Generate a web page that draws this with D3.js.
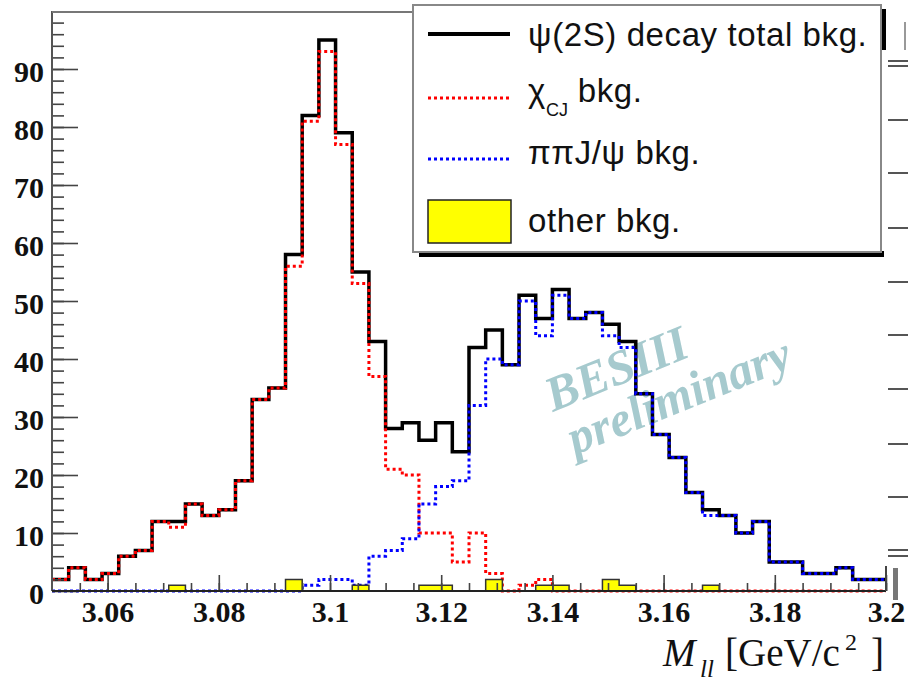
<!DOCTYPE html>
<html>
<head>
<meta charset="utf-8">
<script src="https://cdn.jsdelivr.net/npm/d3@7"></script>
<style>
  html, body { margin: 0; padding: 0; background: #fff; }
  svg { display: block; }
</style>
</head>
<body>
<svg id="chart"></svg>
<script>
/* canvas */
const width = 908, height = 681;
const frame = { left: 52, right: 886, top: 11, bottom: 591 };
const serif = "'Liberation Serif', 'Times New Roman', Times, serif";
const sans = "'Liberation Sans', Arial, Helvetica, sans-serif";

/* histogram binning: 50 bins of 0.003 GeV from 3.05 to 3.2 */
const xMin = 3.05, xMax = 3.2, nBins = 50;

/* entries per bin */
const totalBkg = [2, 4, 2, 3, 6, 7, 12, 12, 15, 13,
                  14, 19, 33, 35, 58, 82, 95, 79, 55, 43,
                  28, 29, 26, 29, 24, 42, 45, 39, 51, 47,
                  52, 47, 48, 46, 43, 34, 27, 23, 17, 14,
                  13, 10, 12, 5, 5, 3, 3, 4, 2, 2];
const chiBkg = [2, 4, 2, 3, 6, 7, 12, 11, 15, 13,
                14, 19, 33, 35, 56, 81, 93, 77, 53, 37,
                21, 20, 10, 10, 5, 10, 3, 0, 1, 2,
                0, 0, 0, 0, 0, 0, 0, 0, 0, 0,
                0, 0, 0, 0, 0, 0, 0, 0, 0, 0];
const pipiBkg = [0, 0, 0, 0, 0, 0, 0, 0, 0, 0,
                 0, 0, 0, 0, 0, 1, 2, 2, 1, 6,
                 7, 9, 15, 18, 19, 32, 40, 39, 50, 44,
                 51, 47, 48, 44, 42, 34, 27, 23, 17, 13,
                 13, 10, 12, 5, 5, 3, 3, 4, 2, 2];
const otherBkg = [0, 0, 0, 0, 0, 0, 0, 1, 0, 0,
                  0, 0, 0, 0, 2, 0, 0, 0, 1, 0,
                  0, 0, 1, 1, 0, 0, 2, 0, 0, 1,
                  1, 0, 0, 2, 1, 0, 0, 0, 0, 1,
                  0, 0, 0, 0, 0, 0, 0, 0, 0, 0];

/* axis ticks */
const xTickLabels = [3.06, 3.08, 3.1, 3.12, 3.14, 3.16, 3.18, 3.2];
const yTickLabels = [0, 10, 20, 30, 40, 50, 60, 70, 80, 90];

/* legend */
const legendItems = [
  { key: 'total', text: 'ψ(2S) decay total bkg.' },
  { key: 'chi',   text: 'χ', sub: 'CJ', after: ' bkg.' },
  { key: 'pipi',  text: 'ππJ/ψ bkg.' },
  { key: 'other', text: 'other bkg.' }
];

const svg = d3.select('#chart').attr('width', width).attr('height', height);

const xScale = d3.scaleLinear().domain([xMin, xMax]).range([frame.left, frame.right]);
const yScale = d3.scaleLinear().domain([0, 100]).range([frame.bottom, frame.top]);
const binW = (xMax - xMin) / nBins;

/* turn bin contents into step points (one extra point closes the last bin) */
function stepPoints(vals) {
  const pts = vals.map((v, i) => [xMin + i * binW, v]);
  pts.push([xMax, vals[vals.length - 1]]);
  return pts;
}
const stepLine = d3.line().x(d => xScale(d[0])).y(d => yScale(d[1])).curve(d3.curveStepAfter);

/* right-hand leftovers of the neighbouring panel */
const sideTicks = [61, 66, 120, 173, 228, 282, 335, 389, 444, 497, 550, 556];
svg.append('g').selectAll('line').data(sideTicks).enter().append('line')
  .attr('x1', 888).attr('x2', 908).attr('y1', d => d).attr('y2', d => d)
  .attr('stroke', '#555').attr('stroke-width', 2);
svg.append('line').attr('x1', 905).attr('x2', 905).attr('y1', 22).attr('y2', 50)
  .attr('stroke', '#999').attr('stroke-width', 2);
svg.append('rect').attr('x', 893).attr('y', 568).attr('width', 5).attr('height', 32).attr('fill', '#777');

/* watermark */
const wm = svg.append('g').attr('fill', '#a6cace').attr('font-family', serif)
  .attr('font-weight', 'bold').attr('font-style', 'italic').attr('font-size', 49);
wm.append('text').attr('transform', 'translate(553,412) rotate(-22)').text('BESIII');
wm.append('text').attr('transform', 'translate(575,455) rotate(-22)').text('preliminary');

/* histograms */
svg.append('path').attr('d', stepLine(stepPoints(totalBkg)))
  .attr('fill', 'none').attr('stroke', '#000').attr('stroke-width', 3.5);
svg.append('path').attr('d', stepLine(stepPoints(chiBkg)))
  .attr('fill', 'none').attr('stroke', '#ff0000').attr('stroke-width', 3).attr('stroke-dasharray', '3,3');
svg.append('path').attr('d', stepLine(stepPoints(pipiBkg)))
  .attr('fill', 'none').attr('stroke', '#0000ff').attr('stroke-width', 3).attr('stroke-dasharray', '3,3');

/* other bkg: filled steps, one patch for each run of non-empty bins */
const runs = [];
otherBkg.forEach((v, i) => {
  if (v > 0) {
    if (runs.length && runs[runs.length - 1].end === i) runs[runs.length - 1].end = i + 1;
    else runs.push({ start: i, end: i + 1 });
  }
});
const stepArea = d3.area().x(d => xScale(d[0])).y0(yScale(0)).y1(d => yScale(d[1])).curve(d3.curveStepAfter);
svg.append('g').selectAll('path').data(runs).enter().append('path')
  .attr('d', r => {
    const pts = d3.range(r.start, r.end).map(i => [xMin + i * binW, otherBkg[i]]);
    pts.push([xMin + r.end * binW, otherBkg[r.end - 1]]);
    return stepArea(pts);
  })
  .attr('fill', '#ffff00').attr('stroke', '#333').attr('stroke-width', 1.5);

/* axes (ticks point inwards like ROOT) */
const xAxis = svg.append('g').attr('transform', `translate(0,${frame.bottom})`)
  .call(d3.axisBottom(xScale).tickValues(d3.range(3.055, 3.2001, 0.005)).tickSize(-8).tickFormat(''));
xAxis.select('.domain').remove();
xAxis.selectAll('line').attr('stroke', '#444').attr('stroke-width', 1.6);
const xMajor = svg.append('g').attr('transform', `translate(0,${frame.bottom})`)
  .call(d3.axisBottom(xScale).tickValues(xTickLabels).tickSize(-16).tickPadding(31).tickFormat(d3.format('')));
xMajor.select('.domain').remove();
xMajor.selectAll('line').attr('stroke', '#444').attr('stroke-width', 1.6);
xMajor.selectAll('text').attr('font-family', serif).attr('font-weight', 'bold')
  .attr('font-size', 30).attr('fill', '#111').attr('dy', 0);

const yMinor = svg.append('g').attr('transform', `translate(${frame.left},0)`)
  .call(d3.axisLeft(yScale).tickValues(d3.range(2, 100, 2)).tickSize(-12).tickFormat(''));
yMinor.select('.domain').remove();
yMinor.selectAll('line').attr('stroke', '#444').attr('stroke-width', 1.6);
const yMajor = svg.append('g').attr('transform', `translate(${frame.left},0)`)
  .call(d3.axisLeft(yScale).tickValues(yTickLabels).tickSize(-26).tickPadding(8).tickFormat(d3.format('d')));
yMajor.select('.domain').remove();
yMajor.selectAll('line').attr('stroke', '#444').attr('stroke-width', 1.6);
yMajor.selectAll('text').attr('font-family', serif).attr('font-weight', 'bold')
  .attr('font-size', 30).attr('fill', '#111').attr('dy', '0.4em');

/* frame */
svg.append('line').attr('x1', frame.left).attr('x2', frame.left).attr('y1', frame.top).attr('y2', frame.bottom)
  .attr('stroke', '#555').attr('stroke-width', 2);
svg.append('line').attr('x1', frame.left).attr('x2', frame.right).attr('y1', frame.bottom).attr('y2', frame.bottom)
  .attr('stroke', '#222').attr('stroke-width', 2);
svg.append('line').attr('x1', frame.left).attr('x2', 420).attr('y1', frame.top + 1).attr('y2', frame.top + 1)
  .attr('stroke', '#777').attr('stroke-width', 2);
svg.append('line').attr('x1', frame.right).attr('x2', frame.right).attr('y1', 566).attr('y2', frame.bottom)
  .attr('stroke', '#444').attr('stroke-width', 2);

/* legend box with shadow */
const lg = svg.append('g');
lg.append('rect').attr('x', 419).attr('y', 251).attr('width', 465).attr('height', 6).attr('fill', '#000');
lg.append('rect').attr('x', 880).attr('y', 9).attr('width', 6).attr('height', 41).attr('fill', '#000');
lg.append('rect').attr('x', 413).attr('y', 5).attr('width', 468).attr('height', 247)
  .attr('fill', '#fff').attr('stroke', '#888').attr('stroke-width', 2);

const rowY = [34, 98, 159, 221];
const baseY = [46, 102, 164, 232];

lg.append('line').attr('x1', 428).attr('x2', 510).attr('y1', rowY[0]).attr('y2', rowY[0])
  .attr('stroke', '#000').attr('stroke-width', 4);
lg.append('line').attr('x1', 428).attr('x2', 510).attr('y1', rowY[1]).attr('y2', rowY[1])
  .attr('stroke', '#ff0000').attr('stroke-width', 3).attr('stroke-dasharray', '3,3');
lg.append('line').attr('x1', 428).attr('x2', 510).attr('y1', rowY[2]).attr('y2', rowY[2])
  .attr('stroke', '#0000ff').attr('stroke-width', 3).attr('stroke-dasharray', '3,3');
lg.append('rect').attr('x', 428).attr('y', 200).attr('width', 83).attr('height', 43)
  .attr('fill', '#ffff00').attr('stroke', '#222').attr('stroke-width', 1.5);

legendItems.forEach((d, i) => {
  const t = lg.append('text').attr('x', 528).attr('y', baseY[i])
    .attr('font-family', sans).attr('font-size', 33).attr('letter-spacing', 0.6).attr('fill', '#111');
  t.append('tspan').text(d.text);
  if (d.sub) {
    t.append('tspan').attr('font-size', 18).attr('letter-spacing', 0).attr('dy', 14).text(d.sub);
    t.append('tspan').attr('dy', -14).text(d.after);
  }
});

/* x-axis title */
const title = svg.append('g').attr('font-family', serif).attr('fill', '#111');
title.append('text').attr('x', 663).attr('y', 666).attr('font-size', 39).attr('font-style', 'italic').text('M');
title.append('text').attr('x', 700).attr('y', 677).attr('font-size', 25).attr('font-style', 'italic').text('ll');
title.append('text').attr('x', 725).attr('y', 666).attr('font-size', 39).text('[GeV/c');
title.append('text').attr('x', 845).attr('y', 650).attr('font-size', 24).text('2');
title.append('text').attr('x', 871).attr('y', 666).attr('font-size', 39).text(']');
</script>
</body>
</html>
